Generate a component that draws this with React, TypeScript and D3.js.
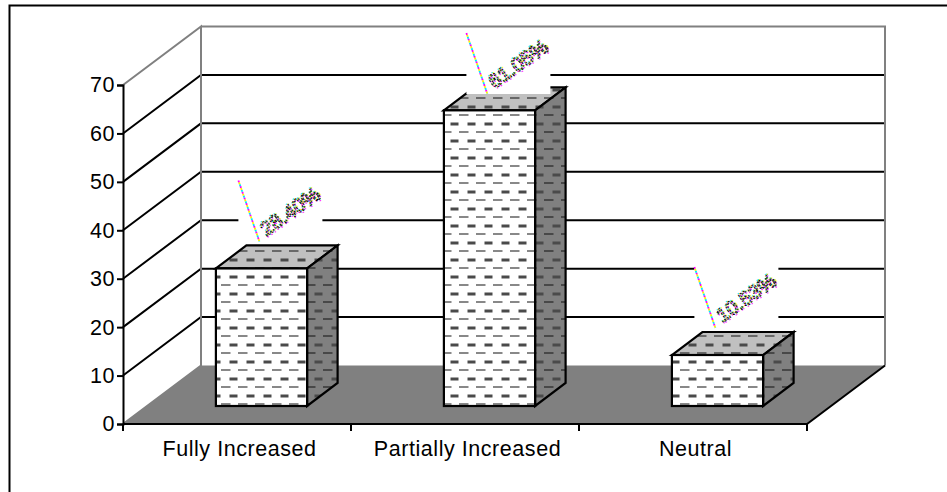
import React from 'react';
import * as d3 from 'd3';

// Data

const categories = ['Fully Increased', 'Partially Increased', 'Neutral'];
const values = [28.4, 61.05, 10.53];
const valueLabels = ['28.40%', '61.05%', '10.53%'];
const yTicks = [0, 10, 20, 30, 40, 50, 60, 70];

const width = 947;
const height = 492;
const fontFamily = '"Liberation Sans", Arial, sans-serif';

function App() {
    const ref = React.useRef<SVGSVGElement>(null);

    React.useEffect(() => {
        const svg = d3.select(ref.current);
        svg.selectAll('*').remove();

        const x = d3.scaleBand<string>().domain(categories).range([123, 807]).paddingInner(0.6).paddingOuter(0.3);
        const y = d3.scaleLinear().domain([0, 70]).range([424, 85]);

        // depth of the 3d box
        const depthX = 78;
        const depthY = 58.5;
        // bars sit in the middle of the floor
        const gapX = 24.5;
        const gapY = 18;
        const barDX = 30.5;
        const barDY = 23;

        const defs = svg.append('defs');
        function dashPattern(id: string, fill: string) {
            const p = defs.append('pattern')
                .attr('id', id)
                .attr('patternUnits', 'userSpaceOnUse')
                .attr('x', 0)
                .attr('y', 3)
                .attr('width', 17)
                .attr('height', 17);
            p.append('rect').attr('width', 17).attr('height', 17).attr('fill', fill);
            p.append('rect').attr('x', 8.5).attr('y', 0.5).attr('width', 8).attr('height', 3).attr('fill', '#4a4a4a');
            p.append('rect').attr('x', 0).attr('y', 9.5).attr('width', 9.5).attr('height', 1).attr('fill', '#111');
        }
        dashPattern('dash-front', '#ffffff');
        dashPattern('dash-top', '#c0c0c0');
        dashPattern('dash-side', '#808080');

        // outer frame, only left and top are visible
        svg.append('path')
            .attr('d', `M9.5,${height} V5.5 H${width}`)
            .attr('fill', 'none')
            .attr('stroke', '#000')
            .attr('stroke-width', 2);

        const x0 = 123;
        const x1 = 807;

        // floor
        svg.append('polygon')
            .attr('points', [
                [x0, y(0)], [x0 + depthX, y(0) - depthY], [x1 + depthX, y(0) - depthY], [x1, y(0)],
            ].join(' '))
            .attr('fill', '#808080');

        // gridlines
        const grid = svg.append('g').attr('fill', 'none').attr('stroke', '#000').attr('stroke-width', 2);
        yTicks.filter((d) => d > 0 && d < 70).forEach((d) => {
            grid.append('path')
                .attr('d', `M${x0},${y(d)} L${x0 + depthX},${y(d) - depthY} H${x1 + depthX}`);
        });

        // back wall
        svg.append('path')
            .attr('d', `M${x0},${y(0)} L${x0 + depthX},${y(0) - depthY} V${y(70) - depthY} L${x0},${y(70)} M${x0 + depthX},${y(70) - depthY} H${x1 + depthX} V${y(0) - depthY}`)
            .attr('fill', 'none')
            .attr('stroke', '#808080')
            .attr('stroke-width', 2);

        // floor right edge and base
        svg.append('path')
            .attr('d', `M${x0},${y(0)} H${x1} L${x1 + depthX},${y(0) - depthY}`)
            .attr('fill', 'none')
            .attr('stroke', '#000')
            .attr('stroke-width', 2);

        // category ticks
        const xTickPos = d3.range(categories.length + 1).map((i) => x0 + (x1 - x0) * i / categories.length);
        svg.append('g').selectAll('line').data(xTickPos).join('line')
            .attr('x1', (d) => d).attr('x2', (d) => d)
            .attr('y1', y(0)).attr('y2', y(0) + 7)
            .attr('stroke', '#000')
            .attr('stroke-width', 2);

        // y axis
        const yAxis = svg.append('g')
            .attr('transform', `translate(${x0},0)`)
            .call(d3.axisLeft(y).tickValues(yTicks).tickSize(6).tickPadding(2).tickFormat(d3.format('d')) as any);
        yAxis.selectAll('line').attr('stroke', '#000').attr('stroke-width', 2);
        yAxis.select('.domain').attr('stroke', '#000').attr('stroke-width', 2);
        yAxis.selectAll('text')
            .attr('font-family', fontFamily)
            .attr('font-size', 21.5)
            .attr('letter-spacing', 0.5)
            .attr('fill', '#000');

        svg.append('g').selectAll('text').data(categories).join('text')
            .attr('x', (d) => x(d)! + x.bandwidth() / 2 + 2.5)
            .attr('y', 455.5)
            .attr('text-anchor', 'middle')
            .attr('font-family', fontFamily)
            .attr('font-size', 21.5)
            .attr('letter-spacing', 0.55)
            .attr('fill', '#000')
            .text((d) => d);

        // bars
        categories.forEach((c, i) => {
            const left = x(c)! + gapX;
            const right = left + x.bandwidth();
            const top = y(values[i]) - gapY;
            const bottom = y(0) - gapY;
            const g = svg.append('g')
                .attr('stroke', '#000')
                .attr('stroke-width', 2.2)
                .attr('stroke-linejoin', 'miter');

            g.append('polygon')
                .attr('points', [[left, top], [left + barDX, top - barDY], [right + barDX, top - barDY], [right, top]].join(' '))
                .attr('fill', 'url(#dash-top)');
            g.append('polygon')
                .attr('points', [[right, top], [right + barDX, top - barDY], [right + barDX, bottom - barDY], [right, bottom]].join(' '))
                .attr('fill', 'url(#dash-side)');
            g.append('rect')
                .attr('x', left)
                .attr('y', top)
                .attr('width', right - left)
                .attr('height', bottom - top)
                .attr('fill', 'url(#dash-front)');
        });

        // data labels, white box + leader + rotated text
        categories.forEach((c, i) => {
            const left = x(c)! + gapX;
            const backTop = y(values[i]) - gapY - barDY;
            const boxTop = Math.max(28, backTop - 70);
            const g = svg.append('g');

            g.append('rect')
                .attr('x', left + 22.5)
                .attr('y', boxTop)
                .attr('width', 84)
                .attr('height', 66)
                .attr('fill', '#fff');

            ['#ff00ff', '#00e5ff', '#ffee00'].forEach((color, k) => {
                g.append('line')
                    .attr('x1', left + 22.5).attr('y1', boxTop + 5)
                    .attr('x2', left + 43.5).attr('y2', boxTop + 66)
                    .attr('stroke', color)
                    .attr('stroke-width', 1.8)
                    .attr('stroke-dasharray', '2 4')
                    .attr('stroke-dashoffset', k * 2);
            });

            const cx = left + 74;
            const cy = boxTop + 36;
            [['#00e5ff', -1, -1], ['#ff00ff', 1, 1], ['#ffee00', 1, -1]].forEach(([color, ox, oy]) => {
                g.append('text')
                    .attr('transform', `translate(${cx + (ox as number)},${cy + (oy as number)}) rotate(-35)`)
                    .attr('text-anchor', 'middle')
                    .attr('dy', '0.35em')
                    .attr('font-family', fontFamily)
                    .attr('font-size', 20)
                    .attr('fill', 'none')
                    .attr('stroke', color as string)
                    .attr('stroke-width', 0.9)
                    .attr('stroke-dasharray', '1.5 3')
                    .text(valueLabels[i]);
            });
            g.append('text')
                .attr('transform', `translate(${cx},${cy}) rotate(-35)`)
                .attr('text-anchor', 'middle')
                .attr('dy', '0.35em')
                .attr('font-family', fontFamily)
                .attr('font-size', 20)
                .attr('fill', 'none')
                .attr('stroke', '#000')
                .attr('stroke-width', 1)
                .attr('stroke-dasharray', '2 1.5')
                .text(valueLabels[i]);
        });
    }, []);

    return (
        <svg
            ref={ref}
            width={width}
            height={height}
            style={{ position: 'absolute', left: 0, top: 0, background: '#fff' }}
        />
    );
}

export default App;
